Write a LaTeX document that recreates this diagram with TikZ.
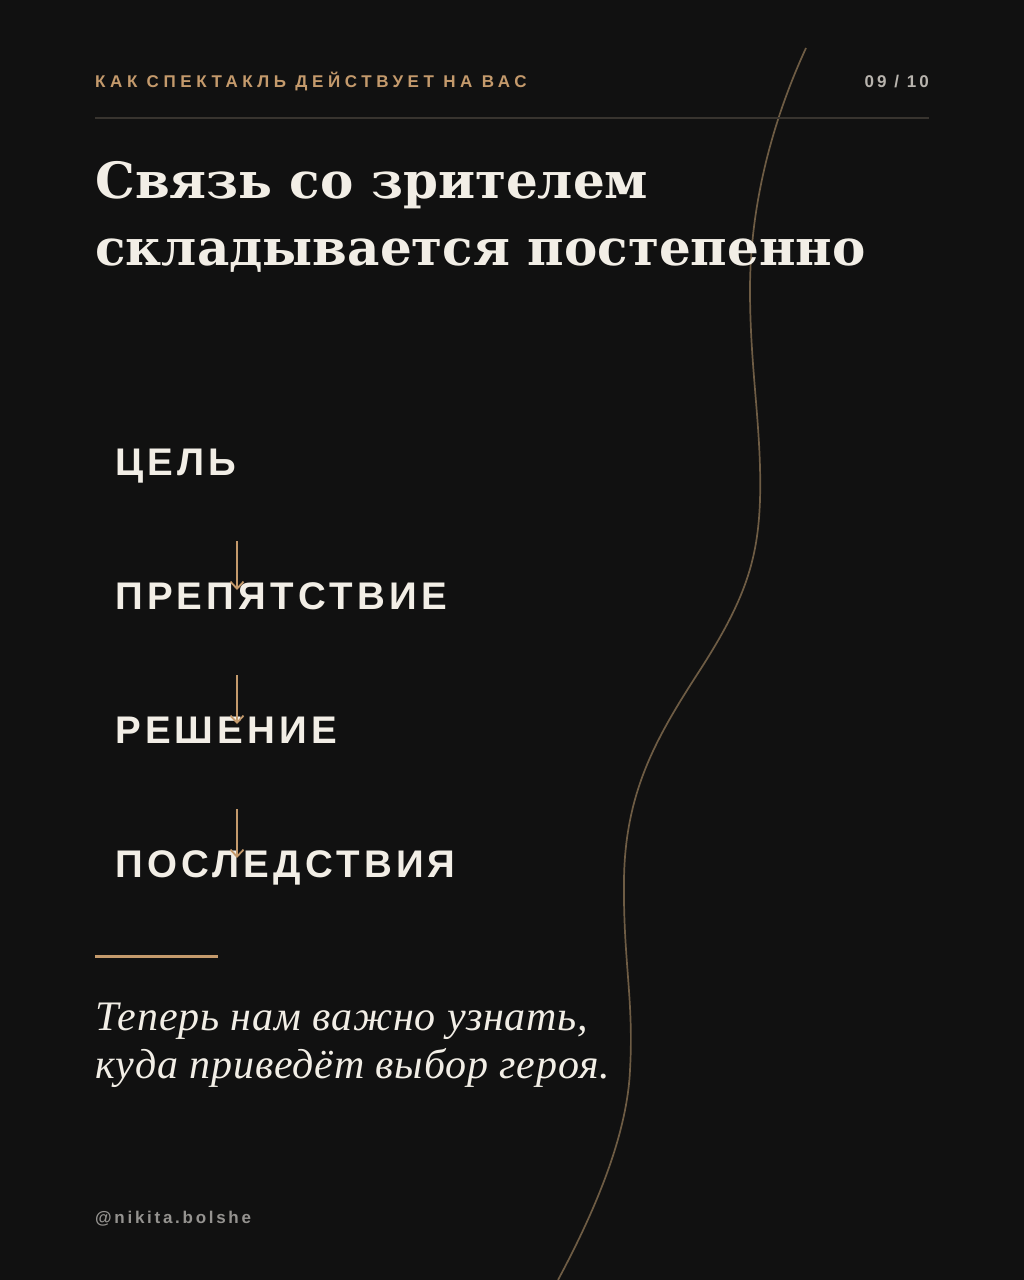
\documentclass[tikz,border=0pt]{standalone}
\usepackage{fontspec}
\setmainfont{Liberation Serif}
\newfontfamily\sansfont{Liberation Sans}
\newfontfamily\wideSans[LetterSpace=27]{Liberation Sans}
\newfontfamily\numSans[LetterSpace=18]{Liberation Sans}
\newfontfamily\stepSans[LetterSpace=11]{Liberation Sans}
\newfontfamily\handleSans[LetterSpace=16]{Liberation Sans}
\newfontfamily\closeSerif[LetterSpace=2]{Liberation Serif}
\newfontfamily\headSerif{DejaVu Serif}
\usepackage{tikz}
\usetikzlibrary{arrows.meta, calc}
\usepackage{xcolor}
\definecolor{bgdark}{HTML}{111111}
\definecolor{gold}{HTML}{C49A6C}
\definecolor{cream}{HTML}{F2EEE6}
\definecolor{numgrey}{HTML}{B8B4AE}
\definecolor{handlegrey}{HTML}{959390}
\definecolor{rulegrey}{HTML}{38342F}
\definecolor{curvegold}{HTML}{6E5C44}

\tikzset{
  every node/.style={inner sep=0pt, anchor=base west},
  kicker/.style={font=\wideSans\bfseries\fontsize{17pt}{20pt}\selectfont, text=gold},
  pagenum/.style={font=\numSans\bfseries\fontsize{17pt}{20pt}\selectfont, text=numgrey, anchor=base east},
  headline/.style={font=\headSerif\bfseries\fontsize{50pt}{67pt}\selectfont, text=cream},
  steplabel/.style={font=\stepSans\bfseries\fontsize{38.5pt}{44pt}\selectfont, text=cream},
  closing/.style={font=\closeSerif\itshape\fontsize{42pt}{48pt}\selectfont, text=cream},
  handle/.style={font=\handleSans\bfseries\fontsize{17pt}{20pt}\selectfont, text=handlegrey},
  flowarrow/.style={draw=gold, line width=1.8pt, -{Straight Barb[length=7pt,width=13pt]}},
  curveline/.style={draw=curvegold, line width=1.7pt},
}

\begin{document}
\begin{tikzpicture}[x=1pt, y=-1pt]
  % Background
  \fill[bgdark] (0,0) rectangle (1024,1280);
  \useasboundingbox (0,0) rectangle (1024,1280);

  % Curve
  \draw[curveline] (806,48)
    .. controls (775,115) and (750,200) .. (750,290)
    .. controls (750,370) and (762,430) .. (760,500)
    .. controls (758,560) and (745,600) .. (700,670)
    .. controls (658,735) and (625,790) .. (624,880)
    .. controls (623,960) and (634,1000) .. (630,1070)
    .. controls (627,1140) and (590,1220) .. (558,1280);

  % Header
  \node[kicker] (kicker) at (95,87) {КАК СПЕКТАКЛЬ ДЕЙСТВУЕТ НА ВАС};
  \node[pagenum] (page) at (929,87) {09 / 10};
  \draw[rulegrey, line width=1.2pt] (95,118) -- (929,118);

  % Title
  \node[headline] (title1) at (95,198) {Связь со зрителем};
  \node[headline] (title2) at (95,265) {складывается постепенно};

  % Steps
  \coordinate (axis) at (237,0);
  \node[steplabel] (goal) at (115,475) {ЦЕЛЬ};
  \node[steplabel] (obstacle) at (115,609) {ПРЕПЯТСТВИЕ};
  \node[steplabel] (decision) at (115,743) {РЕШЕНИЕ};
  \node[steplabel] (outcome) at (115,877) {ПОСЛЕДСТВИЯ};

  % Arrows
  \draw[flowarrow] ($(axis |- goal.base)+(0,66)$) -- ($(axis |- obstacle.base)+(0,-19)$);
  \draw[flowarrow] ($(axis |- obstacle.base)+(0,66)$) -- ($(axis |- decision.base)+(0,-19)$);
  \draw[flowarrow] ($(axis |- decision.base)+(0,66)$) -- ($(axis |- outcome.base)+(0,-19)$);

  % Closing
  \draw[gold, line width=3pt] (95,956) -- (218,956);
  \node[closing] (close1) at (95,1030) {Теперь нам важно узнать,};
  \node[closing] (close2) at (95,1078) {куда приведёт выбор героя.};

  % Footer
  \node[handle] (handle) at (95,1223) {@nikita.bolshe};
\end{tikzpicture}
\end{document}
